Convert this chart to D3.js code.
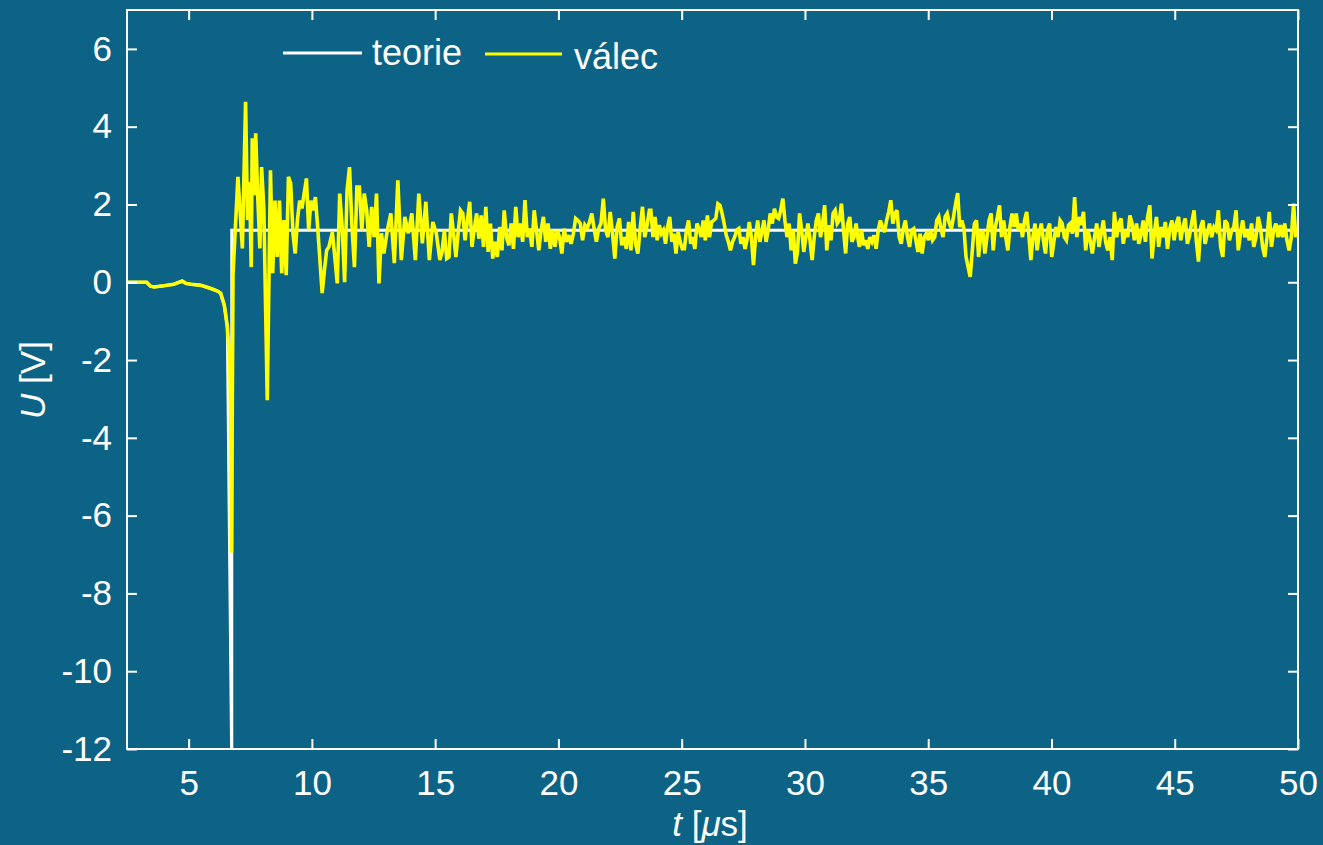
<!DOCTYPE html>
<html><head><meta charset="utf-8">
<script src="https://cdn.jsdelivr.net/npm/d3@7"></script>
<style>html,body{margin:0;padding:0;background:#0c6386;} svg{display:block;}</style>
</head><body><svg id="c" width="1323" height="845"></svg>
<script>
// ---------- data ----------
const xTicks = [5, 10, 15, 20, 25, 30, 35, 40, 45, 50];
const yTicks = [-12, -10, -8, -6, -4, -2, 0, 2, 4, 6];
const legendLabels = ["teorie", "válec"];

// pre-trigger part (t in µs, U in V)
const preT = [2.5, 3.3, 3.45, 3.6, 4.0, 4.4, 4.74, 4.9, 5.1, 5.5, 5.9, 6.15, 6.3, 6.45, 6.57, 6.67, 6.71, 6.74];
const preU = [0, 0, -0.1, -0.12, -0.09, -0.05, 0.03, -0.03, -0.05, -0.08, -0.16, -0.22, -0.28, -0.6, -1.15, -2.0, -3.5, -6.95];

// transient spikes
const spikeT = [6.8, 7.0, 7.18, 7.31, 7.39, 7.47, 7.54, 7.58, 7.66, 7.72, 7.8, 7.89, 7.96, 8.05, 8.19];
const spikeU = [0.2, 2.71, 0.87, 4.64, 1.6, 2.58, 0.39, 3.7, 2.24, 3.83, 2.24, 0.87, 2.96, 1.9, -3.03];

// theory: step at trigger time
const theoryJumpT = 6.75;
const theoryLevel = 1.34;
const theoryMin = -12.5;

// sampled noise segments: [tStart, tEnd]
const segRanges = [[8.32, 10.69], [10.83, 12.92], [13.06, 15.19], [15.28, 23.69], [23.75, 32.16], [32.21, 40.69], [40.76, 50]];
const segB1 = [2.88,0.23,2.1,0.65,2.1,0.23,1.6,0.18,2.71,2.54,1.26,0.74,1.6,2.1,1.9,2.29,2.67,1.34,2.1,1.85,2.19,1.42,0.57,-0.28,0.31,0.82,0.91];
const segB2 = [1.29,0.65,-0.03,2.28,1.42,0.0,2.37,2.96,1.42,0.39,2.45,2.45,1.34,2.28,1.85,0.91,1.94,1.16,2.28,-0.03,1.26,0.74];
const segB3 = [1.34,1.77,0.49,2.62,0.57,1.68,1.26,1.77,0.57,2.28,1.0,2.07,0.57,1.55,1.26,0.57];
const segC = [0.78,1.34,0.61,0.65,1.77,1.25,0.65,1.29,1.85,1.77,1.08,1.59,2.07,0.91,1.38,1.77,1.12,1.72,0.91,1.94,0.78,1.51,0.61,1.04,0.65,1.42,0.82,1.85,1.16,0.95,1.51,0.86,1.94,1.16,1.51,1.04,2.11,1.16,1.38,0.91,1.85,1.34,0.82,1.34,1.68,1.04,1.51,0.86,1.34,0.91,1.34,1.16,0.74,1.38,1.04,1.21,0.99,1.25,1.64,1.59,1.51,1.08,1.47,1.38,1.55,1.77,1.38,1.04,1.38,1.51,2.15,1.34,1.16,1.81,1.25,0.61,1.42,1.64,0.95,1.16,0.86,1.55,0.82,1.81,0.99,0.74,1.38,1.94,1.16,1.47,1.85];
const segD = [1.85,1.16,1.68,1.08,1.47,1.25,1.34,0.99,1.42,1.68,1.04,1.25,0.74,1.29,1.04,0.86,0.86,1.34,1.59,0.99,1.16,0.86,1.51,1.38,1.16,1.59,1.08,1.72,1.16,1.55,1.59,1.64,2.02,1.98,1.77,1.51,1.21,1.04,0.82,1.04,1.16,1.34,1.38,0.99,1.16,0.86,1.12,1.55,1.16,0.44,1.16,1.59,1.04,1.29,1.59,1.04,1.34,1.77,1.51,1.89,1.68,1.64,1.85,2.15,1.59,1.16,1.51,0.82,1.34,0.48,0.78,1.77,1.34,0.78,1.16,1.51,1.08,0.57,1.16,1.59,1.77,1.16,1.51,1.98,0.82,1.47,1.08,1.77,1.85,1.51,1.59,2.02,1.34,0.74,1.51,1.68,1.04,1.16,1.51,1.08];
const segE = [0.91,1.34,0.95,1.08,0.86,1.16,1.04,1.21,0.86,1.34,1.59,1.42,1.29,1.59,1.81,2.11,1.51,1.77,1.85,1.16,0.99,1.38,1.59,1.16,0.91,1.34,1.38,1.08,0.78,1.25,0.74,1.16,1.25,1.08,1.34,1.08,1.16,1.59,1.68,1.38,1.16,1.68,1.77,1.51,1.38,1.68,2.02,2.29,1.42,1.59,1.38,0.65,0.39,0.14,0.82,1.51,1.59,0.65,1.25,1.34,0.74,1.16,1.59,1.77,0.82,1.42,1.68,1.98,1.16,1.59,1.16,0.82,1.42,1.77,1.42,1.77,1.34,1.51,1.16,1.59,1.81,1.25,0.57,1.16,1.51,0.82,1.25,1.51,1.08,0.74,1.34,1.51,0.65,1.04,1.42,1.16,1.59,1.51,1.16,1.08,1.47];
const segF = [1.51,1.25,2.19,1.16,1.68,1.47,1.81,0.82,1.34,1.08,0.74,1.16,1.51,0.91,1.25,1.59,1.04,0.82,1.16,0.57,1.81,1.16,1.51,1.64,0.99,1.34,1.16,1.72,1.51,1.08,1.51,0.99,1.21,1.59,1.04,1.68,1.98,0.61,1.25,1.68,0.91,1.42,1.16,1.55,0.86,1.38,1.59,1.08,1.51,1.68,1.08,1.42,1.64,0.99,1.21,1.55,1.85,1.08,0.53,1.42,1.59,0.99,1.25,1.51,1.16,1.42,1.34,1.85,0.91,0.65,1.59,1.51,1.08,1.34,1.42,1.85,0.82,1.25,1.59,1.16,1.34,1.08,1.51,0.91,1.16,1.68,1.42,0.91,0.65,1.16,1.81,0.91,1.34,1.51,1.16,1.47,1.16,1.51,1.08,0.82,1.16,2.02,1.16,1.42];

// ---------- build series ----------
const valec = [];
preT.forEach((t, i) => valec.push([t, preU[i]]));
spikeT.forEach((t, i) => valec.push([t, spikeU[i]]));
[segB1, segB2, segB3, segC, segD, segE, segF].forEach((seg, k) => {
  const [t0, t1] = segRanges[k];
  const n = seg.length;
  seg.forEach((u, i) => valec.push([t0 + (t1 - t0) * i / (n - 1), u]));
});
const theory = [];
preT.slice(0, -3).forEach((t, i) => theory.push([t, preU[i]]));
theory.push([theoryJumpT, theoryMin]);
theory.push([theoryJumpT, theoryLevel]);
theory.push([50, theoryLevel]);

// ---------- layout ----------
const W = 1323, H = 845;
const L = 127, R = 1298, T = 10, B = 749;
const bg = "#0c6386";
const font = "'Liberation Sans', Arial, Helvetica, sans-serif";
const fs = 35;

const svg = d3.select("#c");
svg.append("rect").attr("width", W).attr("height", H).attr("fill", bg);

const x = d3.scaleLinear().domain([2.5, 50]).range([L, R]);
const y = d3.scaleLinear().domain([-12, 7]).range([B, T]);

svg.append("clipPath").attr("id", "clip")
  .append("rect").attr("x", L).attr("y", T).attr("width", R - L).attr("height", B - T);

const line = d3.line().x(d => x(d[0])).y(d => y(d[1]));
const g = svg.append("g").attr("clip-path", "url(#clip)");
g.append("path").datum(theory).attr("d", line)
  .attr("fill", "none").attr("stroke", "#ffffff").attr("stroke-width", 3);
g.append("path").datum(valec).attr("d", line)
  .attr("fill", "none").attr("stroke", "#ffff00").attr("stroke-width", 3.6)
  .attr("stroke-linejoin", "miter").attr("stroke-miterlimit", 3);

// axes
function styleAxis(sel) {
  sel.selectAll("path,line").attr("stroke", "#ffffff").attr("stroke-width", 2);
  sel.selectAll("text").attr("fill", "#ffffff").attr("font-family", font).attr("font-size", fs);
  sel.select(".domain").remove();
}
svg.append("g").attr("transform", `translate(0,${B})`)
  .call(d3.axisBottom(x).tickValues(xTicks).tickSize(-10).tickPadding(21).tickFormat(d3.format("d")))
  .call(styleAxis);
svg.append("g").attr("transform", `translate(0,${T})`)
  .call(d3.axisTop(x).tickValues(xTicks).tickSize(-10).tickFormat(""))
  .call(styleAxis);
svg.append("g").attr("transform", `translate(${L},0)`)
  .call(d3.axisLeft(y).tickValues(yTicks).tickSize(-10).tickPadding(15).tickFormat(d3.format("d")))
  .call(styleAxis);
svg.append("g").attr("transform", `translate(${R},0)`)
  .call(d3.axisRight(y).tickValues(yTicks).tickSize(-10).tickFormat(""))
  .call(styleAxis);
svg.selectAll(".tick text").text(function(){ return this.textContent.replace("\u2212", "-"); });

svg.append("rect").attr("x", L).attr("y", T).attr("width", R - L).attr("height", B - T)
  .attr("fill", "none").attr("stroke", "#ffffff").attr("stroke-width", 2);

// axis titles
const xt = svg.append("text").attr("x", 710).attr("y", 836).attr("text-anchor", "middle")
  .attr("fill", "#fff").attr("font-family", font).attr("font-size", fs);
xt.append("tspan").attr("font-style", "italic").text("t");
xt.append("tspan").text(" [");
xt.append("tspan").attr("font-style", "italic").text("μ");
xt.append("tspan").text("s]");

const yt = svg.append("text").attr("transform", "translate(45,380) rotate(-90)").attr("text-anchor", "middle")
  .attr("fill", "#fff").attr("font-family", font).attr("font-size", fs);
yt.append("tspan").attr("font-style", "italic").text("U");
yt.append("tspan").text(" [V]");

// legend
const leg = [
  {label: legendLabels[0], color: "#ffffff", x1: 283, x2: 362, ly: 53, tx: 372, ty: 65},
  {label: legendLabels[1], color: "#ffff00", x1: 485, x2: 562, ly: 54, tx: 574, ty: 69}
];
leg.forEach(d => {
  svg.append("line").attr("x1", d.x1).attr("x2", d.x2).attr("y1", d.ly).attr("y2", d.ly)
    .attr("stroke", d.color).attr("stroke-width", 3);
  svg.append("text").attr("x", d.tx).attr("y", d.ty).attr("fill", "#fff")
    .attr("font-family", font).attr("font-size", 36).text(d.label);
});
</script></body></html>
